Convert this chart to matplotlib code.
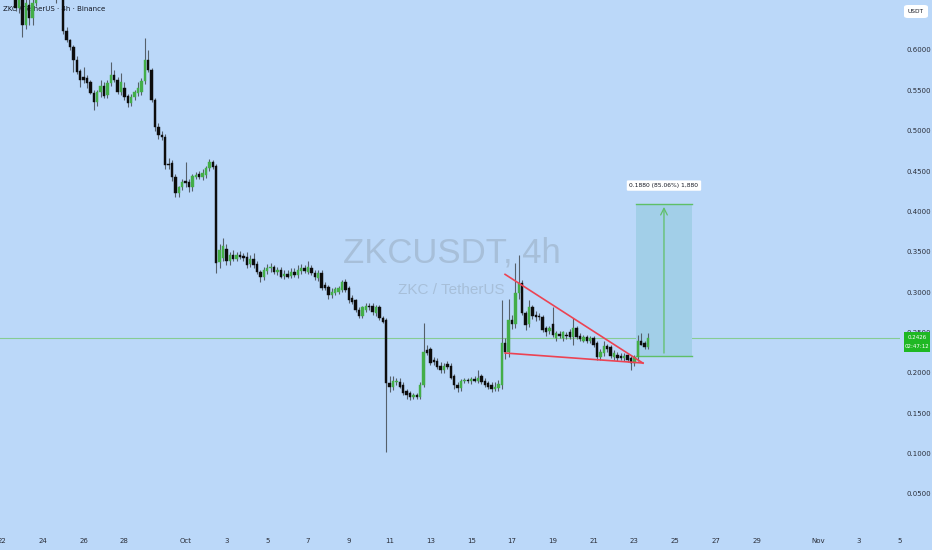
import matplotlib
matplotlib.use("Agg")
import matplotlib.pyplot as plt
from matplotlib.patches import FancyBboxPatch, Rectangle
import numpy as np

# ---------------- data (4h candles, x in days since Sep 22 00:00) ----------------
opens = [
    0.672, 0.680, 0.674, 0.678, 0.670, 0.652, 0.665, 0.631, 0.656, 0.640, 0.658, 0.668, 0.678, 0.672, 0.684, 0.676, 0.680, 0.670,
    0.680, 0.624, 0.612, 0.604, 0.588, 0.574, 0.567, 0.565, 0.560, 0.547, 0.536, 0.548, 0.555, 0.544, 0.559, 0.569, 0.563, 0.548,
    0.553, 0.543, 0.534, 0.542, 0.547, 0.548, 0.562, 0.588, 0.575, 0.538, 0.505, 0.495, 0.492, 0.459, 0.460, 0.443, 0.423, 0.430,
    0.438, 0.436, 0.430, 0.443, 0.446, 0.443, 0.445, 0.454, 0.461, 0.456,
    0.337, 0.342, 0.354, 0.338, 0.346, 0.341, 0.346, 0.345, 0.343, 0.335, 0.341, 0.335, 0.325, 0.319, 0.326, 0.330, 0.331, 0.325,
    0.327, 0.320, 0.322, 0.320, 0.325, 0.321, 0.326, 0.330, 0.325, 0.330, 0.324, 0.317, 0.324, 0.309, 0.306, 0.296, 0.299, 0.300,
    0.302, 0.312, 0.305, 0.293, 0.290, 0.278, 0.271, 0.278, 0.283, 0.283, 0.274, 0.281, 0.268, 0.265,
    0.187, 0.183, 0.188, 0.188, 0.185, 0.177, 0.175, 0.170, 0.172, 0.170, 0.185, 0.228, 0.229, 0.216, 0.215, 0.209, 0.203, 0.211,
    0.209, 0.196, 0.185, 0.181, 0.190, 0.191, 0.190, 0.192, 0.190, 0.196, 0.190, 0.187, 0.185, 0.180, 0.181, 0.185, 0.237, 0.226,
    0.265, 0.261, 0.299, 0.311, 0.274, 0.261, 0.281, 0.272, 0.271, 0.269, 0.255, 0.252, 0.261, 0.243, 0.248, 0.243, 0.247, 0.250,
    0.244, 0.255, 0.245, 0.240, 0.244, 0.240, 0.243, 0.237, 0.219, 0.224, 0.233, 0.232, 0.219, 0.222, 0.221, 0.218, 0.222, 0.218,
    0.212, 0.219, 0.240, 0.237, 0.232,
]
highs = [
    0.684, 0.688, 0.682, 0.686, 0.676, 0.672, 0.675, 0.666, 0.664, 0.664, 0.676, 0.686, 0.688, 0.690, 0.692, 0.688, 0.684, 0.684,
    0.686, 0.628, 0.614, 0.606, 0.592, 0.576, 0.579, 0.569, 0.563, 0.550, 0.550, 0.563, 0.560, 0.563, 0.585, 0.575, 0.567, 0.572,
    0.560, 0.546, 0.545, 0.550, 0.560, 0.565, 0.615, 0.600, 0.578, 0.540, 0.510, 0.500, 0.496, 0.466, 0.464, 0.446, 0.432, 0.440,
    0.461, 0.440, 0.446, 0.449, 0.450, 0.452, 0.456, 0.465, 0.464, 0.459,
    0.360, 0.367, 0.360, 0.350, 0.352, 0.350, 0.351, 0.349, 0.350, 0.346, 0.349, 0.338, 0.328, 0.331, 0.335, 0.336, 0.334, 0.331,
    0.331, 0.327, 0.328, 0.330, 0.330, 0.333, 0.335, 0.333, 0.338, 0.333, 0.328, 0.327, 0.327, 0.312, 0.309, 0.305, 0.306, 0.308,
    0.315, 0.316, 0.308, 0.296, 0.292, 0.281, 0.283, 0.287, 0.287, 0.287, 0.284, 0.284, 0.271, 0.268,
    0.196, 0.196, 0.194, 0.193, 0.188, 0.180, 0.178, 0.175, 0.175, 0.188, 0.262, 0.235, 0.232, 0.219, 0.218, 0.213, 0.212, 0.215,
    0.212, 0.199, 0.188, 0.192, 0.194, 0.194, 0.195, 0.196, 0.203, 0.199, 0.193, 0.190, 0.188, 0.188, 0.191, 0.290, 0.243, 0.292,
    0.272, 0.336, 0.346, 0.315, 0.277, 0.290, 0.284, 0.276, 0.274, 0.272, 0.258, 0.258, 0.281, 0.252, 0.252, 0.252, 0.251, 0.254,
    0.268, 0.258, 0.249, 0.247, 0.247, 0.245, 0.246, 0.240, 0.229, 0.239, 0.236, 0.235, 0.228, 0.226, 0.224, 0.224, 0.225, 0.221,
    0.222, 0.247, 0.249, 0.240, 0.249,
]
lows = [
    0.668, 0.670, 0.666, 0.668, 0.648, 0.646, 0.616, 0.626, 0.631, 0.631, 0.654, 0.664, 0.668, 0.669, 0.672, 0.671, 0.658, 0.664,
    0.620, 0.610, 0.600, 0.573, 0.570, 0.554, 0.559, 0.553, 0.545, 0.526, 0.531, 0.542, 0.540, 0.540, 0.555, 0.560, 0.545, 0.544,
    0.538, 0.529, 0.531, 0.538, 0.543, 0.544, 0.558, 0.573, 0.536, 0.500, 0.490, 0.488, 0.452, 0.452, 0.438, 0.418, 0.418, 0.426,
    0.430, 0.424, 0.425, 0.440, 0.440, 0.439, 0.442, 0.450, 0.453, 0.324,
    0.330, 0.338, 0.333, 0.333, 0.338, 0.338, 0.341, 0.338, 0.330, 0.331, 0.330, 0.322, 0.312, 0.315, 0.322, 0.325, 0.322, 0.321,
    0.317, 0.316, 0.317, 0.317, 0.319, 0.318, 0.322, 0.324, 0.322, 0.321, 0.315, 0.314, 0.302, 0.302, 0.292, 0.293, 0.296, 0.298,
    0.300, 0.300, 0.287, 0.285, 0.275, 0.268, 0.268, 0.275, 0.278, 0.272, 0.271, 0.266, 0.262, 0.102,
    0.176, 0.179, 0.185, 0.181, 0.172, 0.168, 0.166, 0.167, 0.167, 0.167, 0.182, 0.222, 0.210, 0.210, 0.205, 0.200, 0.200, 0.205,
    0.192, 0.180, 0.176, 0.178, 0.187, 0.187, 0.186, 0.188, 0.187, 0.186, 0.182, 0.180, 0.176, 0.177, 0.178, 0.180, 0.217, 0.220,
    0.254, 0.255, 0.292, 0.272, 0.253, 0.257, 0.267, 0.264, 0.265, 0.250, 0.245, 0.248, 0.244, 0.240, 0.243, 0.240, 0.242, 0.242,
    0.234, 0.242, 0.240, 0.238, 0.237, 0.237, 0.232, 0.216, 0.216, 0.221, 0.226, 0.218, 0.216, 0.215, 0.216, 0.215, 0.213, 0.203,
    0.209, 0.215, 0.234, 0.230, 0.229,
]
closes = [
    0.680, 0.674, 0.678, 0.670, 0.652, 0.665, 0.631, 0.658, 0.640, 0.658, 0.668, 0.678, 0.672, 0.684, 0.676, 0.680, 0.670, 0.678,
    0.624, 0.612, 0.604, 0.588, 0.573, 0.563, 0.563, 0.559, 0.547, 0.536, 0.548, 0.555, 0.543, 0.559, 0.569, 0.563, 0.548, 0.560,
    0.542, 0.534, 0.542, 0.548, 0.553, 0.562, 0.588, 0.575, 0.538, 0.505, 0.495, 0.492, 0.457, 0.457, 0.443, 0.423, 0.430, 0.436,
    0.435, 0.430, 0.444, 0.445, 0.443, 0.447, 0.454, 0.461, 0.455, 0.336,
    0.352, 0.357, 0.338, 0.346, 0.341, 0.346, 0.343, 0.342, 0.333, 0.341, 0.333, 0.325, 0.319, 0.327, 0.330, 0.331, 0.325, 0.327,
    0.319, 0.322, 0.319, 0.325, 0.321, 0.327, 0.330, 0.326, 0.331, 0.324, 0.319, 0.324, 0.305, 0.305, 0.296, 0.300, 0.304, 0.305,
    0.312, 0.302, 0.290, 0.288, 0.278, 0.271, 0.281, 0.283, 0.281, 0.275, 0.281, 0.268, 0.263, 0.187,
    0.182, 0.190, 0.190, 0.183, 0.175, 0.172, 0.170, 0.172, 0.170, 0.185, 0.226, 0.224, 0.212, 0.213, 0.207, 0.203, 0.209, 0.207,
    0.194, 0.185, 0.181, 0.190, 0.191, 0.190, 0.192, 0.190, 0.194, 0.188, 0.185, 0.183, 0.180, 0.183, 0.186, 0.237, 0.226, 0.265,
    0.260, 0.299, 0.311, 0.274, 0.259, 0.281, 0.271, 0.269, 0.269, 0.253, 0.250, 0.255, 0.247, 0.249, 0.245, 0.250, 0.245, 0.244,
    0.255, 0.244, 0.242, 0.244, 0.240, 0.243, 0.234, 0.219, 0.226, 0.233, 0.229, 0.221, 0.224, 0.218, 0.218, 0.221, 0.216, 0.212,
    0.219, 0.240, 0.235, 0.232, 0.2426,
]
first_day = 0.0           # Sep 22 00:00
candle_step = 1.0 / 6.0   # 4h

tick_days = [0, 2, 4, 6, 9, 11, 13, 15, 17, 19, 21, 23, 25, 27, 29, 31, 33, 35, 37, 40, 42, 44]
tick_labels = ["22", "24", "26", "28", "Oct", "3", "5", "7", "9", "11", "13", "15", "17", "19", "21",
               "23", "25", "27", "29", "Nov", "3", "5"]
price_ticks = [0.05, 0.10, 0.15, 0.20, 0.25, 0.30, 0.35, 0.40, 0.45, 0.50, 0.55, 0.60]

wedge_upper_days = [24.66, 31.42]
wedge_upper_prices = [0.322, 0.212]
wedge_lower_days = [24.66, 31.42]
wedge_lower_prices = [0.2245, 0.2121]

target_day_start, target_day_end = 31.1, 33.8
target_low, target_high = 0.2210, 0.4090
last_price = 0.2426

# ---------------- styling ----------------
BG = "#bbd8f9"
GREEN = "#43ae48"
BLACK = "#0d0d0d"
WICK = "#55606b"

fig = plt.figure(figsize=(9.32, 5.5), dpi=100, facecolor=BG)
W, H = 932.0, 550.0
ax = fig.add_axes([0, 1 - 527 / H, 900 / W, 527 / H])
ax.set_facecolor(BG)
for s in ax.spines.values():
    s.set_visible(False)

n = len(opens)
days = np.array([first_day + i * candle_step for i in range(n)])
o = np.array(opens); h = np.array(highs); l = np.array(lows); c = np.array(closes)
up = c >= o
colors = np.where(up, GREEN, BLACK)

ax.vlines(days, l, h, colors=WICK, linewidth=0.8, zorder=3)
bottoms = np.minimum(o, c)
heights = np.maximum(np.abs(c - o), 0.0012)
ax.bar(days, heights, bottom=bottoms, width=0.12, color=colors, edgecolor=colors,
       linewidth=0.3, zorder=4)

# watermark
fig.text(452 / W, 1 - 253 / H, "ZKCUSDT, 4h", ha="center", va="center",
         fontsize=25, color="#a7bfd9", family="Liberation Sans", zorder=0.5)
fig.text(451 / W, 1 - 290 / H, "ZKC / TetherUS", ha="center", va="center",
         fontsize=11, color="#a7bfd9", family="Liberation Sans", zorder=0.5)
ax.set_zorder(1)
ax.patch.set_alpha(0)

# current price line
ax.axhline(last_price, color="#86cc93", linewidth=0.8, zorder=2)

# target box
ax.add_patch(Rectangle((target_day_start, target_low), target_day_end - target_day_start,
                       target_high - target_low, facecolor="#a2cfe8", edgecolor="none", zorder=2))
ax.plot([target_day_start, target_day_end], [target_low, target_low], color="#5fbf67", lw=1.0, zorder=3)
ax.plot([target_day_start, target_day_end], [target_high, target_high], color="#5fbf67", lw=1.0, zorder=3)
mid = (target_day_start + target_day_end) / 2
ax.annotate("", xy=(mid, target_high), xytext=(mid, target_low),
            arrowprops=dict(arrowstyle="->", color="#5fbf67", lw=0.9, mutation_scale=12), zorder=3)
ax.text(mid, target_high + 0.023, "0.1880 (85.06%) 1,880", ha="center", va="center", fontsize=4.3,
        color="#131722", zorder=6,
        bbox=dict(boxstyle="round,pad=0.45,rounding_size=0.2", facecolor="white", edgecolor="none"))

# wedge
ax.plot(wedge_upper_days, wedge_upper_prices, color="#ec4353", lw=1.2, zorder=5)
ax.plot(wedge_lower_days, wedge_lower_prices, color="#ec4353", lw=1.2, zorder=5)

ax.set_xlim(-2 / 20.4, 898 / 20.4)
ax.set_ylim((534.2 - 527) / 807, 534.2 / 807)

ax.set_xticks(tick_days)
ax.set_xticklabels(tick_labels, fontsize=5, color="#2a2e39")
ax.tick_params(axis="x", length=0, pad=8)
ax.yaxis.tick_right()
ax.set_yticks(price_ticks)
ax.set_yticklabels([f"{v:.4f}" for v in price_ticks], fontsize=5, color="#2a2e39")
ax.tick_params(axis="y", length=0, pad=5)

# title
fig.text(3 / W, 1 - 9 / H, "ZKC / TetherUS · 4h · Binance", fontsize=5, color="#131722",
         ha="left", va="center", zorder=0.6)

# USDT box
fig.patches.append(FancyBboxPatch((904 / W, 1 - 18 / H), 24 / W, 13 / H,
                                  boxstyle="round,pad=0,rounding_size=0.004", transform=fig.transFigure,
                                  facecolor="white", edgecolor="none"))
fig.text(916 / W, 1 - 11.5 / H, "USDT", fontsize=4.2, color="#131722", ha="center", va="center")

# price label
fig.patches.append(Rectangle((904 / W, 1 - 352 / H), 26 / W, 20 / H, transform=fig.transFigure,
                             facecolor="#1fb823", edgecolor="none", zorder=10))
fig.text(917 / W, 1 - 337.5 / H, "0.2426", fontsize=4.0, color="white", ha="center", va="center", zorder=11)
fig.text(917 / W, 1 - 346.5 / H, "02:47:12", fontsize=4.0, color="white", ha="center", va="center", zorder=11)

fig.savefig("out.png", dpi=100, facecolor=BG)
